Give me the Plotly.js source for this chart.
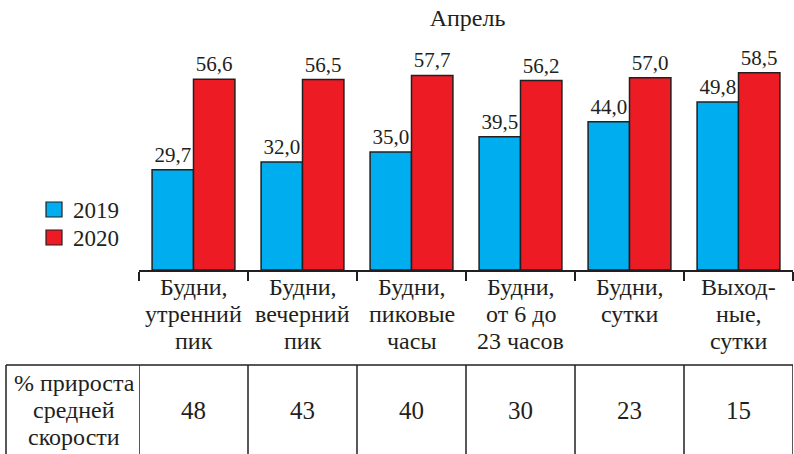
<!DOCTYPE html>
<html>
<head>
<meta charset="utf-8">
<script src="https://cdn.plot.ly/plotly-3.0.1.min.js"></script>
<style>html,body{margin:0;padding:0;background:#fff;}#chart{width:794px;height:454px;}</style>
</head>
<body>
<div id="chart"></div>
<script>
const categories = [
  "Будни,<br>утренний<br>пик",
  "Будни,<br>вечерний<br>пик",
  "Будни,<br>пиковые<br>часы",
  "Будни,<br>от 6 до<br>23 часов",
  "Будни,<br>сутки",
  "Выход-<br>ные,<br>сутки"
];
const seriesNames = ["2019", "2020"];
const seriesColors = ["#00AEEF", "#ED1C24"];
const values2019 = [29.7, 32.0, 35.0, 39.5, 44.0, 49.8];
const values2020 = [56.6, 56.5, 57.7, 56.2, 57.0, 58.5];
const growthPct = [48, 43, 40, 30, 23, 15];
const growthLabel = ["% прироста", "средней", "скорости"];
const titleText = "Апрель";

const FONT = "Liberation Serif";
const INK = "#231F20";
const fmt = v => v.toFixed(1).replace(".", ",");

const traces = [values2019, values2020].map((vals, k) => ({
  type: "bar", name: seriesNames[k], x: categories, y: vals,
  marker: {color: seriesColors[k], line: {color: INK, width: 1.5}},
  text: vals.map(fmt), textposition: "outside",
  textfont: {family: FONT, size: 21, color: INK},
  constraintext: "none", cliponaxis: false, hoverinfo: "skip", showlegend: false
}));

// pixel -> paper helpers (plot area x 139..793, y 34..270)
const px = p => (p - 139) / 654;
const py = p => (270 - p) / 236;

const shapes = [];
const annotations = [];

// legend (drawn by hand to match the reference squares)
const legendRows = [[202, 217, 210], [230, 245, 238]];
seriesNames.forEach((n, k) => {
  const [t, b, c] = legendRows[k];
  shapes.push({type: "rect", xref: "paper", yref: "paper", x0: px(46), x1: px(62), y0: py(b), y1: py(t),
    fillcolor: seriesColors[k], line: {color: INK, width: 1.2}});
  annotations.push({xref: "paper", yref: "paper", x: px(71), y: py(c), text: n, showarrow: false,
    xanchor: "left", yanchor: "middle", font: {family: FONT, size: 23, color: INK}});
});

// category labels, line by line
const catLineY = [287, 314, 341];
categories.forEach((c, i) => {
  c.split("<br>").forEach((line, j) => {
    annotations.push({xref: "x", yref: "paper", x: c, y: py(catLineY[j]), text: line, showarrow: false,
      xanchor: "center", yanchor: "middle", font: {family: FONT, size: 24, color: INK}});
  });
});

// table
const yTop = py(365), yBot = py(470);
shapes.push({type: "line", xref: "paper", yref: "paper", x0: px(6), x1: 1, y0: yTop, y1: yTop, line: {color: INK, width: 1.5}});
shapes.push({type: "line", xref: "paper", yref: "paper", x0: px(6), x1: px(6), y0: yTop, y1: yBot, line: {color: INK, width: 1.5}});
for (let i = 0; i <= categories.length; i++) {
  shapes.push({type: "line", xref: "x", yref: "paper", x0: i - 0.5, x1: i - 0.5, y0: yTop, y1: yBot, line: {color: INK, width: 1.5}});
}
const tabLineY = [383, 410, 437];
growthLabel.forEach((line, j) => {
  annotations.push({xref: "paper", yref: "paper", x: px(74), y: py(tabLineY[j]), text: line, showarrow: false,
    font: {family: FONT, size: 24, color: INK}, xanchor: "center", yanchor: "middle"});
});
growthPct.forEach((v, i) => {
  annotations.push({xref: "x", yref: "paper", x: categories[i], y: py(410), text: String(v), showarrow: false,
    font: {family: FONT, size: 25, color: INK}, xanchor: "center", yanchor: "middle"});
});

const layout = {
  width: 794, height: 454,
  margin: {l: 139, r: 1, t: 34, b: 184},
  paper_bgcolor: "#fff", plot_bgcolor: "#fff",
  font: {family: FONT, size: 22, color: INK},
  title: {text: titleText, font: {family: FONT, size: 24, color: INK}, x: px(467.5), xref: "paper", xanchor: "center",
    y: 1 - 18 / 454, yref: "container", yanchor: "middle"},
  barmode: "group", bargap: 0.24, bargroupgap: 0,
  showlegend: false,
  xaxis: {type: "category", range: [-0.5, 5.5], showline: true, linecolor: INK, linewidth: 1.5,
    ticks: "outside", tickson: "boundaries", ticklen: 9, tickwidth: 1.5, tickcolor: INK,
    showticklabels: false, showgrid: false, zeroline: false, fixedrange: true},
  yaxis: {visible: false, range: [0, 70], showgrid: false, zeroline: false, fixedrange: true},
  shapes: shapes, annotations: annotations
};

Plotly.newPlot("chart", traces, layout, {staticPlot: true, displayModeBar: false});
</script>
</body>
</html>
